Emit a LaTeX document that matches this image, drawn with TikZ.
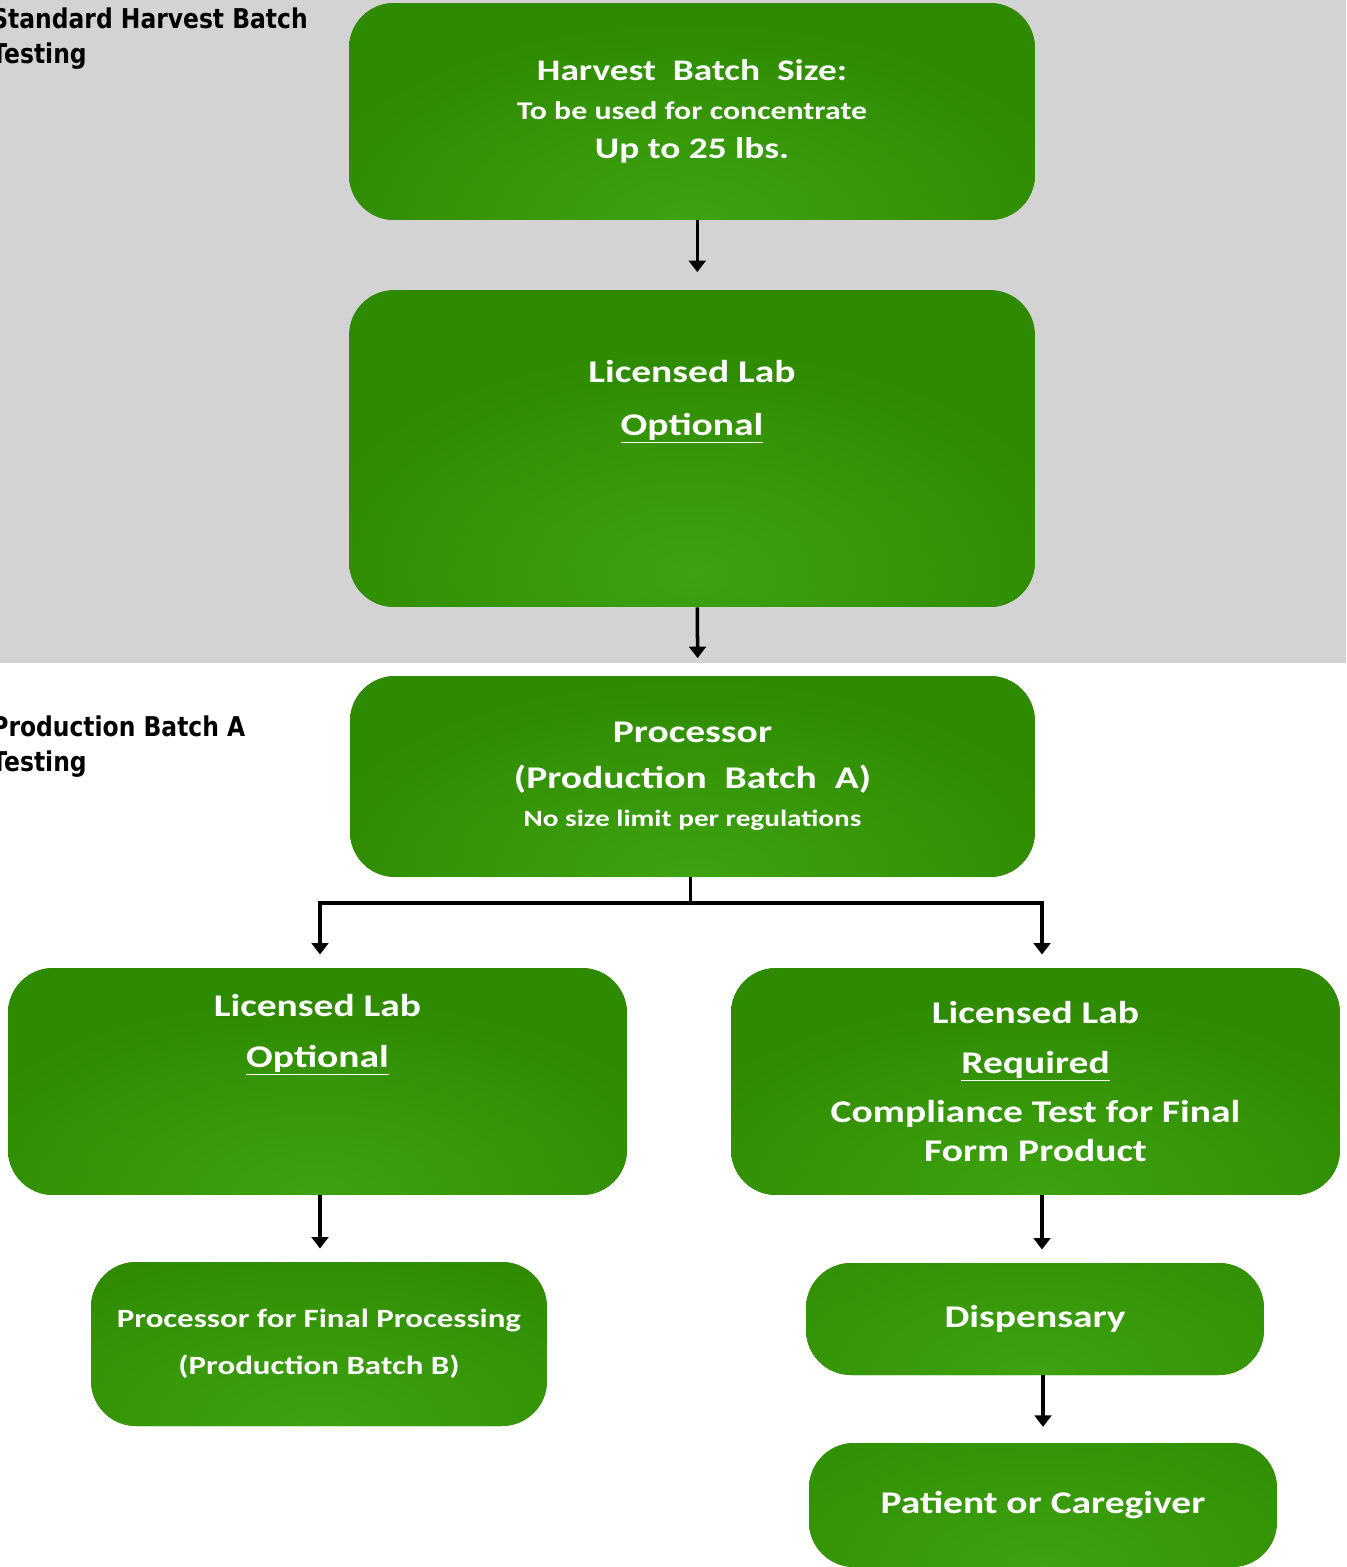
\documentclass[tikz,border=0pt]{standalone}
\usepackage{fontspec}
\usetikzlibrary{arrows.meta}
\newfontfamily\boxfont[FakeStretch=1.25]{Carlito}
\newfontfamily\sidefont[FakeStretch=0.86]{DejaVu Sans}
\definecolor{leafdark}{RGB}{46,138,0}
\definecolor{leaflight}{RGB}{62,163,16}
\definecolor{bandgray}{RGB}{211,211,211}
\pgfdeclareradialshading{bottomglow}{\pgfpoint{0bp}{0bp}}%
    {color(0bp)=(leaflight); color(20bp)=(leafdark); color(50bp)=(leafdark)}

\begin{document}
\begin{tikzpicture}[x=0.02cm, y=-0.02cm,
    greenbox/.style={rounded corners=0.9cm, fill=leafdark,
        path picture={\shade[shading=bottomglow]
            ([shift={(-10cm,-5cm)}]path picture bounding box.south)
            rectangle ([shift={(10cm,5cm)}]path picture bounding box.south);},
        text=white, align=center, inner sep=0pt,
        font=\boxfont\bfseries\fontsize{18}{22}\selectfont},
    sidelabel/.style={anchor=north west, align=left, inner sep=0pt,
        font=\sidefont\bfseries\fontsize{15.5}{20.4}\selectfont},
    flowarrow/.style={-{Triangle[length=6.5pt,width=9.5pt]}, line width=2pt, shorten >=7.5pt}]
    \useasboundingbox (0,0) rectangle (1346,1567);

    % Фон
    \fill[bandgray] (0,0) rectangle (1346,663);

    % Подписи слева
    \node[sidelabel] at (-9,7) {Standard Harvest Batch\\Testing};
    \node[sidelabel] at (-9,715) {Production Batch A\\Testing};

    % Блоки
    \node[greenbox, minimum width=13.72cm, minimum height=4.34cm] (harvest) at (692,111.5)
        {\fontsize{17}{22}\selectfont Harvest~~Batch~~Size:\\
         {\fontsize{14.5}{22}\selectfont To be used for concentrate}\\
         \fontsize{17}{22}\selectfont Up to 25 lbs.};
    \node[greenbox, minimum width=13.72cm, minimum height=6.34cm] (lab) at (692,448.5)
        {Licensed Lab\\[8pt]\underline{Optional}\\[36pt]~};
    \node[greenbox, minimum width=13.70cm, minimum height=4.02cm] (proc) at (692.5,776.5)
        {Processor\\[4pt](Production~~Batch~~A)\\
         {\fontsize{13.3}{21}\selectfont No size limit per regulations}};
    \node[greenbox, minimum width=12.38cm, minimum height=4.54cm] (labopt) at (317.5,1081.5)
        {Licensed Lab\\[7pt]\underline{Optional}\\[36pt]~};
    \node[greenbox, minimum width=12.18cm, minimum height=4.54cm] (labreq) at (1035.5,1081.5)
        {Licensed Lab\\[6pt]\underline{Required}\\[6pt]Compliance Test for Final\\Form Product};
    \node[greenbox, minimum width=9.12cm, minimum height=3.28cm,
        font=\boxfont\bfseries\fontsize{15}{27}\selectfont] (final) at (319,1344)
        {Processor for Final Processing\\(Production Batch B)};
    \node[greenbox, minimum width=9.16cm, minimum height=2.24cm] (disp) at (1035,1319)
        {Dispensary};
    \node[greenbox, minimum width=9.36cm, minimum height=2.48cm] (patient) at (1043,1505)
        {Patient or Caregiver};

    % Развилка
    \coordinate (splitL) at (320,903);
    \coordinate (splitR) at (1042,903);

    % Стрелки
    \draw[flowarrow, shorten >=10pt] ([xshift=3pt]harvest.south) -- ([xshift=3pt]lab.north);
    \draw[flowarrow, shorten >=10pt] ([xshift=3pt]lab.south) -- ([xshift=3pt]proc.north);
    \draw[line width=1.5pt] ([xshift=-1pt]proc.south) -- ([xshift=-1pt]proc.south |- splitL);
    \draw[line width=2.3pt, line cap=rect] (splitL) -- (splitR);
    \draw[flowarrow] (splitL) -- (splitL |- labopt.north);
    \draw[flowarrow] (splitR) -- (splitR |- labreq.north);
    \draw[flowarrow] (labopt.south -| splitL) -- (final.north -| splitL);
    \draw[flowarrow] (labreq.south -| splitR) -- (disp.north -| splitR);
    \draw[flowarrow, shorten >=9pt] (disp.south -| patient.north) -- (patient.north);
\end{tikzpicture}
\end{document}
